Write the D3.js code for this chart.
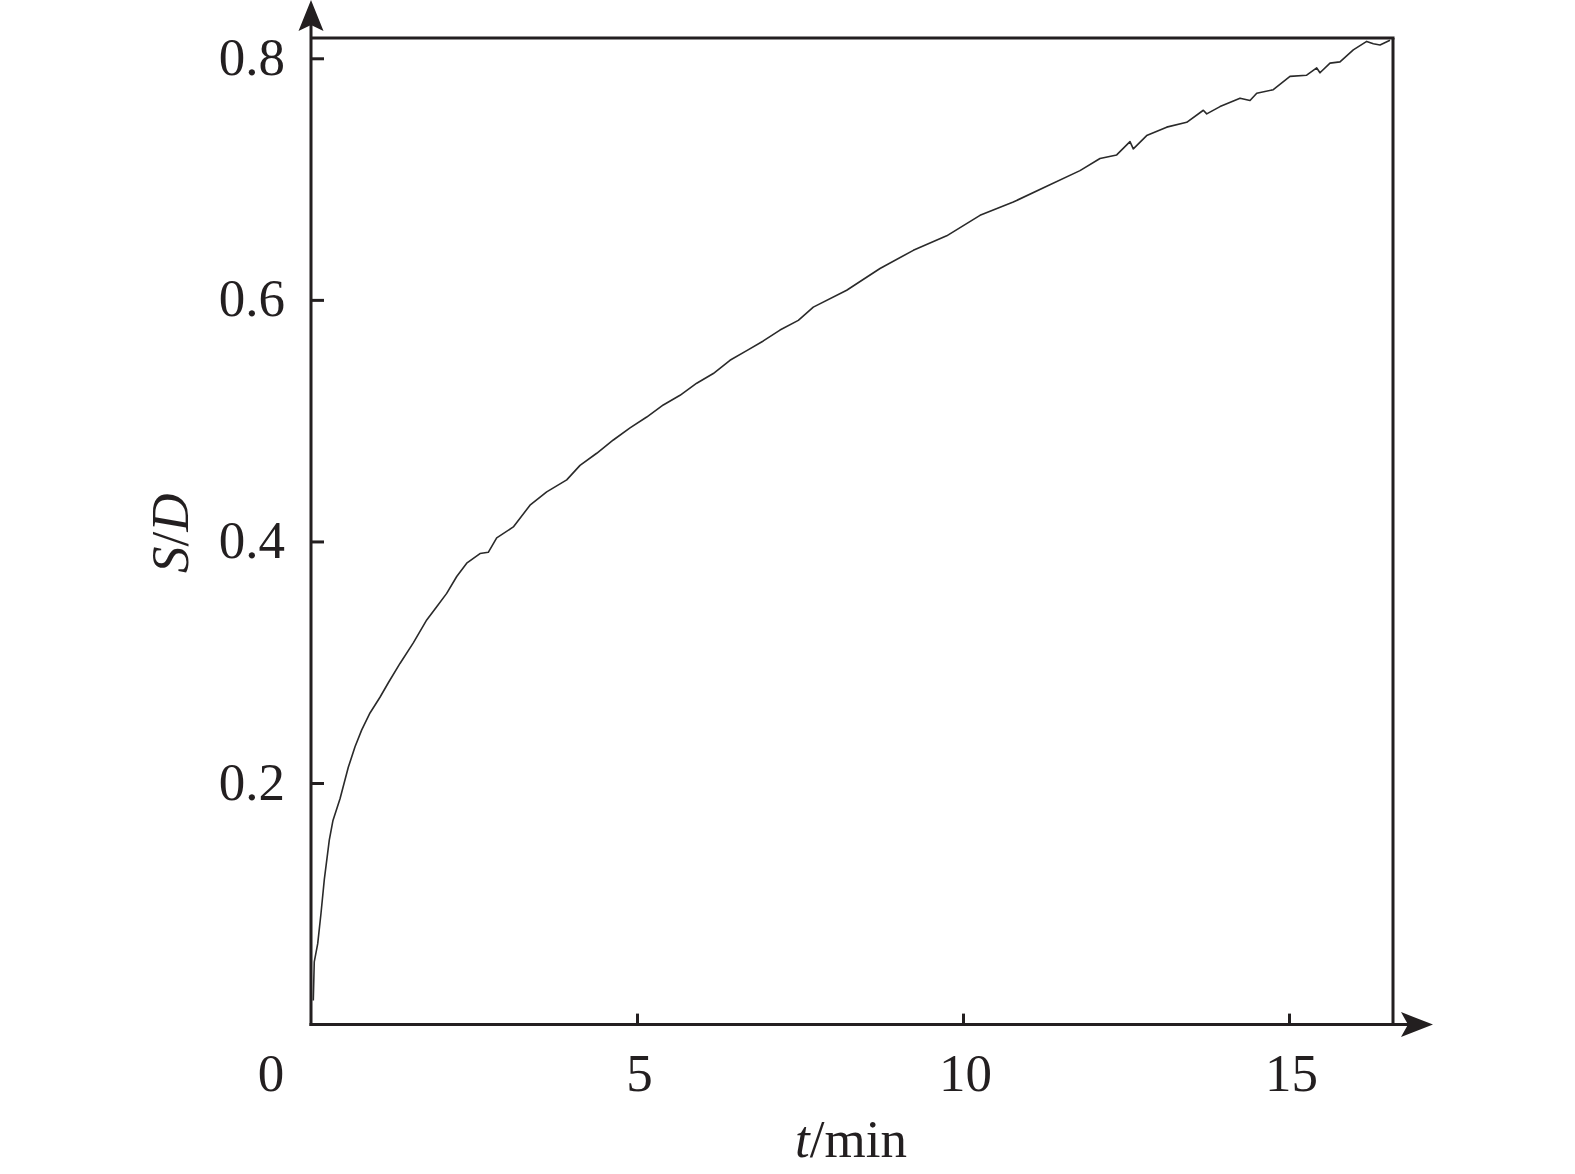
<!DOCTYPE html>
<html>
<head>
<meta charset="utf-8">
<script src="https://cdn.jsdelivr.net/npm/d3@7"></script>
<style>
  html, body { margin: 0; padding: 0; background: #fff; }
  svg { display: block; }
  text { font-family: "Liberation Serif", "Times New Roman", serif; fill: #231f20; }
</style>
</head>
<body>
<svg id="chart" width="1575" height="1174"></svg>
<script>
// ---- data ----
const tValues = [0.035, 0.05, 0.103, 0.153, 0.204, 0.281, 0.337, 0.445, 0.572, 0.675, 0.778, 0.905,
  1.058, 1.186, 1.365, 1.569, 1.775, 1.928, 2.081, 2.235, 2.388, 2.592, 2.719, 2.848, 3.103, 3.359,
  3.615, 3.922, 4.126, 4.382, 4.637, 4.893, 5.149, 5.403, 5.660, 5.916, 6.170, 6.426, 6.683, 6.937,
  7.193, 7.474, 7.704, 8.216, 8.727, 9.238, 9.750, 10.261, 10.771, 11.284, 11.794, 12.101, 12.357,
  12.561, 12.612, 12.817, 13.124, 13.431, 13.686, 13.738, 13.942, 14.249, 14.402, 14.505, 14.759,
  15.015, 15.271, 15.425, 15.475, 15.629, 15.782, 15.986, 16.192, 16.293, 16.396, 16.549];
const sdValues = [0.020, 0.052, 0.067, 0.092, 0.120, 0.153, 0.169, 0.187, 0.213, 0.230, 0.244, 0.258,
  0.271, 0.283, 0.299, 0.316, 0.335, 0.346, 0.357, 0.371, 0.382, 0.390, 0.391, 0.403, 0.412, 0.430,
  0.441, 0.451, 0.463, 0.473, 0.484, 0.494, 0.503, 0.513, 0.521, 0.531, 0.539, 0.550, 0.558, 0.566,
  0.575, 0.583, 0.594, 0.608, 0.626, 0.641, 0.653, 0.670, 0.681, 0.694, 0.707, 0.717, 0.720,
  0.731, 0.725, 0.736, 0.743, 0.747, 0.757, 0.754, 0.760, 0.767, 0.765, 0.771, 0.774,
  0.785, 0.786, 0.792, 0.788, 0.796, 0.797, 0.807, 0.814, 0.812, 0.811, 0.815];
const xTicks = [5, 10, 15];
const yTicks = [0.2, 0.4, 0.6, 0.8];
const originLabel = "0";
const xDomain = [0, 16.595];
const yDomain = [0, 0.8168];

// ---- layout ----
const plotL = 311, plotR = 1393, plotT = 38, plotB = 1024.6;
const ink = "#231f20";
const fontSize = 53;

const svg = d3.select("#chart");
const x = d3.scaleLinear().domain(xDomain).range([plotL, plotR]);
const y = d3.scaleLinear().domain(yDomain).range([plotB, plotT]);

// frame (top and right)
svg.append("line").attr("x1", plotL).attr("x2", plotR + 1.5).attr("y1", plotT).attr("y2", plotT)
  .attr("stroke", ink).attr("stroke-width", 3);
svg.append("line").attr("x1", plotR).attr("x2", plotR).attr("y1", plotT).attr("y2", plotB)
  .attr("stroke", ink).attr("stroke-width", 3);

// y axis line with arrow
svg.append("line").attr("x1", plotL).attr("x2", plotL).attr("y1", plotB + 1.5).attr("y2", 24)
  .attr("stroke", ink).attr("stroke-width", 3);
svg.append("path")
  .attr("d", `M${plotL},0 L${plotL + 12.5},31 L${plotL},25 L${plotL - 12.5},31 Z`)
  .attr("fill", ink);

// x axis line with arrow
svg.append("line").attr("x1", plotL - 1.5).attr("x2", 1410).attr("y1", plotB).attr("y2", plotB)
  .attr("stroke", ink).attr("stroke-width", 3);
svg.append("path")
  .attr("d", `M1433,${plotB} L1401,${plotB - 12.5} L1408,${plotB} L1401,${plotB + 12.5} Z`)
  .attr("fill", ink);

// y ticks
const yAxis = d3.axisLeft(y).tickValues(yTicks).tickFormat(d3.format(".1f"))
  .tickSizeInner(-13).tickSizeOuter(0).tickPadding(26);
const gy = svg.append("g").attr("transform", `translate(${plotL},0)`).call(yAxis);
gy.select(".domain").remove();
gy.selectAll(".tick line").attr("stroke", ink).attr("stroke-width", 3);
gy.selectAll(".tick text").attr("dy", null).attr("y", 16)
  .style("font-family", '"Liberation Serif", serif').style("font-size", fontSize + "px").attr("fill", ink);

// x ticks
const xAxis = d3.axisBottom(x).tickValues(xTicks).tickFormat(d3.format("d"))
  .tickSizeInner(-11).tickSizeOuter(0).tickPadding(0);
const gx = svg.append("g").attr("transform", `translate(0,${plotB})`).call(xAxis);
gx.select(".domain").remove();
gx.selectAll(".tick line").attr("stroke", ink).attr("stroke-width", 3);
gx.selectAll(".tick text").attr("dy", null).attr("y", 66.5).attr("dx", 2)
  .style("font-family", '"Liberation Serif", serif').style("font-size", fontSize + "px").attr("fill", ink);

// origin label
svg.append("text").attr("x", x(0) - 40).attr("y", plotB + 66.5).attr("text-anchor", "middle")
  .style("font-size", fontSize + "px").text(originLabel);

// axis titles
const xt = svg.append("text").attr("x", (plotL + plotR) / 2 - 1).attr("y", 1157)
  .attr("text-anchor", "middle").style("font-size", fontSize + "px");
xt.append("tspan").style("font-style", "italic").text("t");
xt.append("tspan").text("/min");

const yt = svg.append("text").attr("transform", `translate(188,${(plotT + plotB) / 2 + 2}) rotate(-90)`)
  .attr("text-anchor", "middle").style("font-size", fontSize + "px");
yt.append("tspan").style("font-style", "italic").text("S");
yt.append("tspan").text("/");
yt.append("tspan").style("font-style", "italic").text("D");

// curve
const data = tValues.map((t, i) => ({ t, v: sdValues[i] }));
const line = d3.line().x(d => x(d.t)).y(d => y(d.v));
svg.append("path").datum(data).attr("d", line)
  .attr("fill", "none").attr("stroke", "#2a2a2a").attr("stroke-width", 1.6)
  .attr("stroke-linejoin", "round");
</script>
</body>
</html>
